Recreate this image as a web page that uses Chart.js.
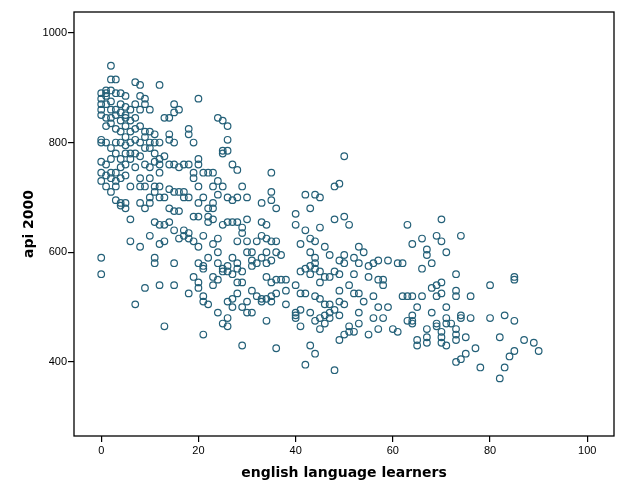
<!DOCTYPE html>
<html lang="en">
<head>
  <meta charset="UTF-8">
  <title>api 2000 vs english language learners</title>
  <script src="https://cdn.jsdelivr.net/npm/chart.js"></script>
  <style>
    html, body { margin: 0; padding: 0; background: #fff; }
    #wrap { width: 629px; height: 504px; }
  </style>
</head>
<body>
  <div id="wrap"><canvas id="scatter"></canvas></div>
  <script>
    // english language learners (x) -> list of api 2000 values (y)
    const ellValues = [0, 1, 2, 3, 4, 5, 6, 7, 8, 9, 10, 11, 12, 13, 14, 15, 16, 17, 18, 19,
      20, 21, 22, 23, 24, 25, 26, 27, 28, 29, 30, 31, 32, 33, 34, 35, 36, 37, 38, 40,
      41, 42, 43, 44, 45, 46, 47, 48, 49, 50, 51, 52, 53, 54, 55, 56, 57, 58, 59, 60,
      61, 62, 63, 64, 65, 66, 67, 68, 69, 70, 71, 72, 73, 74, 75, 76, 77, 78, 80, 82,
      83, 84, 85, 87, 89, 90];
    const apiValues = [
      [880, 870, 860, 850, 805, 800, 765, 745, 730, 590, 560, 890],
      [895, 890, 885, 870, 845, 830, 800, 760, 740, 720],
      [940, 915, 895, 875, 860, 845, 835, 790, 770, 745, 735, 710],
      [915, 890, 860, 850, 825, 800, 780, 745, 730, 720, 695],
      [890, 870, 855, 840, 820, 800, 770, 755, 735, 690, 685],
      [885, 865, 850, 845, 830, 810, 795, 780, 760, 740, 690, 680],
      [860, 840, 820, 800, 780, 770, 720, 660, 620],
      [910, 870, 845, 825, 805, 780, 755, 505],
      [905, 885, 860, 830, 800, 775, 735, 720, 690, 610],
      [880, 870, 820, 810, 790, 760, 720, 680, 535],
      [860, 820, 800, 790, 755, 735, 700, 690, 630],
      [815, 800, 780, 765, 720, 710, 655, 590, 580],
      [905, 800, 770, 760, 745, 720, 700, 650, 615, 540],
      [845, 775, 700, 650, 620, 465],
      [845, 815, 805, 760, 715, 680, 655],
      [870, 855, 800, 760, 710, 675, 640, 580, 540],
      [860, 755, 710, 675, 625],
      [760, 710, 700, 640, 630],
      [825, 815, 760, 700, 635, 625, 525],
      [800, 745, 735, 665, 620, 555],
      [880, 770, 760, 720, 690, 665, 610, 580, 545, 535],
      [745, 700, 630, 575, 570, 520, 510, 450],
      [745, 680, 665, 655, 590, 505],
      [745, 720, 690, 680, 660, 615, 555, 540],
      [845, 730, 705, 625, 600, 580, 550, 490],
      [840, 785, 780, 720, 650, 570, 565, 470],
      [830, 805, 785, 700, 655, 575, 565, 510, 480, 465],
      [760, 695, 655, 590, 560, 515, 500],
      [750, 700, 655, 620, 580, 570, 545, 525],
      [720, 645, 635, 565, 545, 500, 430],
      [700, 660, 620, 600, 510, 490],
      [600, 585, 575, 530, 490],
      [620, 580, 520],
      [690, 655, 630, 590, 515, 510],
      [650, 625, 600, 580, 555, 515, 475],
      [745, 710, 695, 620, 585, 545, 520, 510],
      [680, 620, 600, 550, 525, 425],
      [595, 550],
      [550, 530, 505],
      [670, 650, 540, 490, 485, 480],
      [615, 565, 525, 495, 465],
      [705, 640, 570, 525, 395],
      [680, 625, 600, 575, 560, 490, 430],
      [705, 620, 590, 580, 570, 520, 475, 415],
      [700, 645, 565, 545, 515, 480, 460],
      [610, 555, 505, 485, 470],
      [595, 555, 505, 490, 480],
      [720, 660, 565, 495, 385],
      [725, 585, 560, 530, 510, 485, 440],
      [775, 665, 595, 580, 505, 450],
      [650, 540, 465, 455],
      [590, 560, 525, 455],
      [610, 580, 525, 490, 470],
      [600, 510],
      [575, 555, 450],
      [580, 520, 480],
      [585, 550, 500, 460],
      [550, 540, 480],
      [585, 500],
      [460],
      [580, 455],
      [580, 520],
      [650, 520, 475],
      [615, 520, 485, 475, 470],
      [500, 440, 430],
      [625, 570, 520],
      [605, 595, 460, 445, 435],
      [580, 535, 490],
      [630, 540, 520, 470, 465],
      [660, 620, 545, 525, 455, 445, 435],
      [600, 500, 480, 470, 430],
      [470],
      [560, 530, 520, 460, 450, 440, 400],
      [630, 485, 480, 405],
      [445, 415],
      [520, 480],
      [425],
      [390],
      [540, 480],
      [445, 370],
      [485, 390],
      [410],
      [555, 550, 475, 420],
      [440],
      [435],
      [420]
    ];
    const xTicks = [0, 20, 40, 60, 80, 100];
    const yTicks = [400, 600, 800, 1000];

    const points = [];
    ellValues.forEach(function (x, i) {
      apiValues[i].forEach(function (y) { points.push({ x: x, y: y }); });
    });

    // full box around the plot area, like the SPSS frame
    const frame = {
      id: 'frame',
      afterDraw: function (chart) {
        const a = chart.chartArea;
        const ctx = chart.ctx;
        ctx.save();
        ctx.strokeStyle = '#000';
        ctx.lineWidth = 1.3;
        ctx.strokeRect(a.left, a.top, a.right - a.left, a.bottom - a.top);
        ctx.restore();
      }
    };

    const tickFont = { family: 'Liberation Sans, Arial, sans-serif', size: 11 };
    const titleFont = { family: 'DejaVu Sans, Verdana, sans-serif', size: 14, weight: 'bold' };
    const plain = function (v) { return String(v); };

    new Chart(document.getElementById('scatter'), {
      type: 'scatter',
      data: {
        datasets: [{
          data: points,
          pointStyle: 'circle',
          pointRadius: 3.3,
          pointBorderWidth: 1.2,
          pointBorderColor: 'rgb(36, 96, 120)',
          pointBackgroundColor: 'rgba(0,0,0,0)'
        }]
      },
      options: {
        responsive: true,
        maintainAspectRatio: false,
        animation: false,
        layout: { padding: { top: 12, right: 15, left: 0, bottom: 0 } },
        plugins: { legend: { display: false }, tooltip: { enabled: false } },
        scales: {
          x: {
            type: 'linear',
            min: -5.6,
            max: 105.5,
            afterFit: function (s) { s.height = 68; },
            afterBuildTicks: function (s) { s.ticks = xTicks.map(function (v) { return { value: v }; }); },
            grid: { drawOnChartArea: false, drawTicks: true, tickLength: 6, color: '#000', lineWidth: 1.2 },
            border: { display: false },
            ticks: { color: '#000', font: tickFont, padding: 2, maxRotation: 0, callback: plain },
            title: { display: true, text: 'english language learners', color: '#000', font: titleFont, padding: { top: 0, bottom: 22 } }
          },
          y: {
            type: 'linear',
            min: 265,
            max: 1038,
            afterFit: function (s) { s.width = 74; },
            afterBuildTicks: function (s) { s.ticks = yTicks.map(function (v) { return { value: v }; }); },
            grid: { drawOnChartArea: false, drawTicks: true, tickLength: 6, color: '#000', lineWidth: 1.2 },
            border: { display: false },
            ticks: { color: '#000', font: tickFont, padding: 1, callback: plain },
            title: { display: true, text: 'api 2000', color: '#000', font: titleFont, padding: { top: 21, bottom: 0 } }
          }
        }
      },
      plugins: [frame]
    });
  </script>
</body>
</html>
